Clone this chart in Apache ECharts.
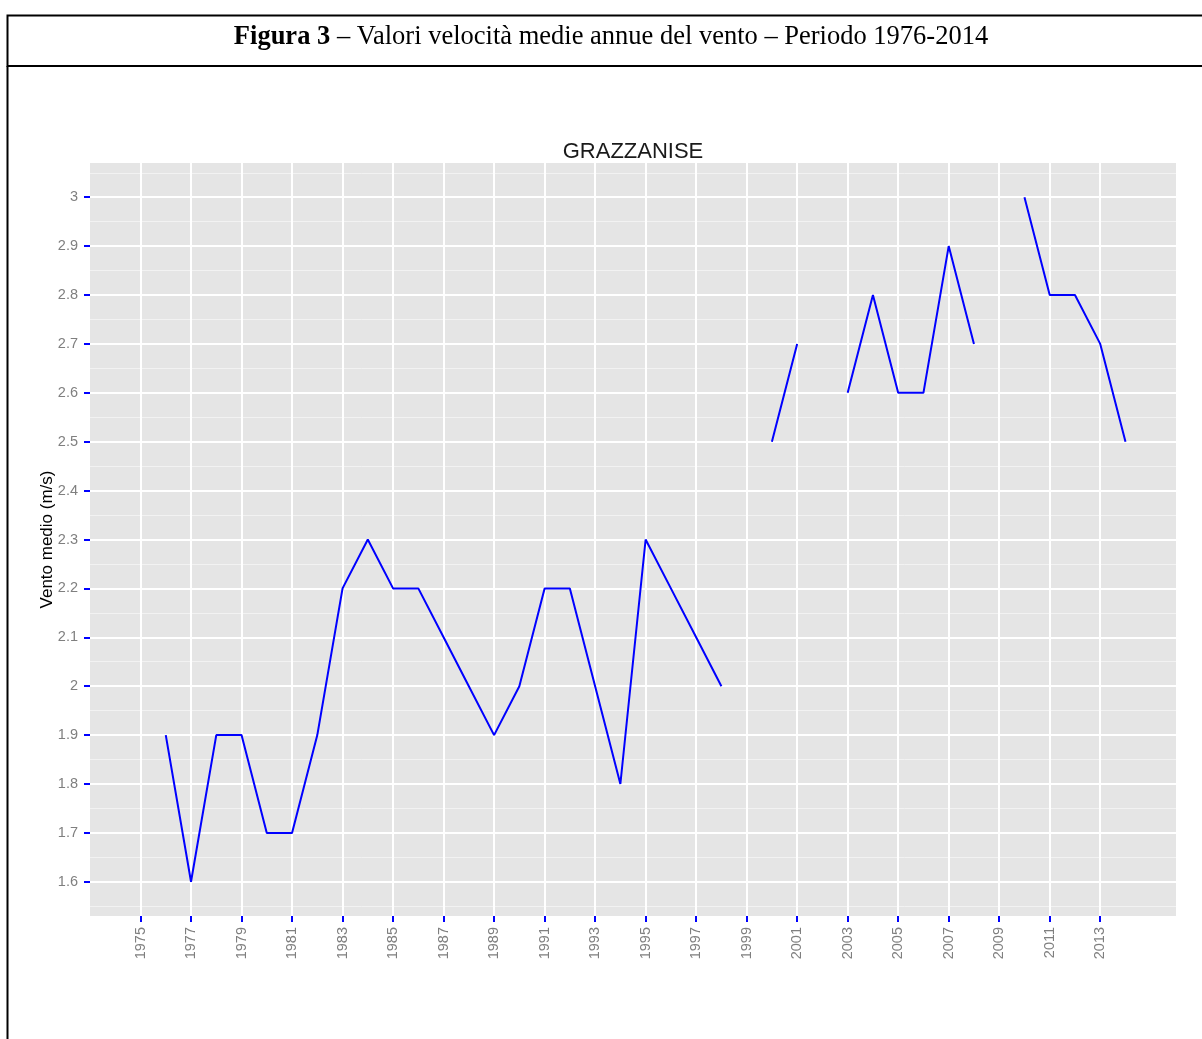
<!DOCTYPE html>
<html>
<head>
<meta charset="utf-8">
<script src="https://cdn.jsdelivr.net/npm/echarts@6/dist/echarts.min.js"></script>
<style>
html,body{margin:0;padding:0;background:#fff;}
#c{width:1202px;height:1039px;}
</style>
</head>
<body>
<div id="c"></div>
<script>
// ---- data ----
var years = [1976,1977,1978,1979,1980,1981,1982,1983,1984,1985,1986,1987,1988,1989,1990,1991,1992,1993,1994,1995,1996,1997,1998,1999,2000,2001,2002,2003,2004,2005,2006,2007,2008,2009,2010,2011,2012,2013,2014];
var windSpeed = [1.9,1.6,1.9,1.9,1.7,1.7,1.9,2.2,2.3,2.2,2.2,2.1,2.0,1.9,2.0,2.2,2.2,2.0,1.8,2.3,2.2,2.1,2.0,null,2.5,2.7,null,2.6,2.8,2.6,2.6,2.9,2.7,null,3.0,2.8,2.8,2.7,2.5];
var xBreaks = [1975,1977,1979,1981,1983,1985,1987,1989,1991,1993,1995,1997,1999,2001,2003,2005,2007,2009,2011,2013];
var yBreaks = [1.6,1.7,1.8,1.9,2.0,2.1,2.2,2.3,2.4,2.5,2.6,2.7,2.8,2.9,3.0];
var yMinorBreaks = [1.55,1.65,1.75,1.85,1.95,2.05,2.15,2.25,2.35,2.45,2.55,2.65,2.75,2.85,2.95,3.05];
var figTitle = 'Figura 3';
var figSubtitle = ' – Valori velocità medie annue del vento – Periodo 1976-2014';
var plotTitle = 'GRAZZANISE';
var yName = 'Vento medio (m/s)';

var pts = years.map(function(y,i){ return [y, windSpeed[i]]; });

var chart = echarts.init(document.getElementById('c'), null, {renderer:'canvas'});
var sans = 'Liberation Sans, Arial, sans-serif';
chart.setOption({
  animation: false,
  title: [{
    text: '{b|' + figTitle + '}{n|' + figSubtitle + '}',
    left: 606, top: 19, textAlign: 'center',
    textStyle: {
      fontWeight: 'normal', fontFamily: 'Liberation Serif', fontSize: 26.5, color: '#000',
      rich: {
        b: {fontFamily: 'Liberation Serif', fontWeight: 'bold', fontSize: 26.5, color: '#000'},
        n: {fontFamily: 'Liberation Serif', fontWeight: 'normal', fontSize: 26.5, color: '#000'}
      }
    }
  },{
    text: plotTitle,
    left: 628, top: 136, textAlign: 'center',
    textStyle: {fontFamily: sans, fontWeight: 'normal', fontSize: 22, color: '#1a1a1a'}
  }],
  graphic: [
    {type:'rect', shape:{x:7.5, y:15.5, width:1300, height:50.5}, style:{fill:'none', stroke:'#000', lineWidth:2}, silent:true},
    {type:'line', shape:{x1:7.5, y1:66, x2:7.5, y2:1100}, style:{stroke:'#000', lineWidth:2}, silent:true}
  ],
  grid: {left: 90, right: 26, top: 163, bottom: 123, show: true, backgroundColor: '#E5E5E5', borderWidth: 0, z: 0},
  xAxis: {
    type: 'value', min: 1973, max: 2016, z: 2,
    axisLine: {show: false},
    axisTick: {show: true, length: 6, customValues: xBreaks, lineStyle: {color: '#0000FF', width: 2}},
    axisLabel: {customValues: xBreaks, rotate: 90, margin: 11, color: '#7F7F7F', fontFamily: sans, fontSize: 14.5,
      formatter: function(v){ return String(v); }},
    splitLine: {show: true, lineStyle: {color: '#FFFFFF', width: 2}}
  },
  yAxis: [{
    type: 'value', min: 1.53, max: 3.07, z: 2,
    name: yName, nameLocation: 'middle', nameGap: 34, nameRotate: 90, nameMoveOverlap: false,
    nameTextStyle: {fontFamily: sans, fontSize: 17, color: '#000'},
    axisLine: {show: false},
    axisTick: {show: true, length: 6, customValues: yBreaks, lineStyle: {color: '#0000FF', width: 2}},
    axisLabel: {customValues: yBreaks, margin: 12, color: '#7F7F7F', fontFamily: sans, fontSize: 14.5,
      formatter: function(v){ return String(Math.round(v*10)/10); }},
    splitLine: {show: true, lineStyle: {color: '#FFFFFF', width: 2}}
  },{
    type: 'value', min: 1.53, max: 3.07, z: 1, position: 'left',
    axisLine: {show: false},
    axisTick: {show: false, customValues: yMinorBreaks},
    axisLabel: {show: false, customValues: yMinorBreaks},
    splitLine: {show: true, lineStyle: {color: '#F2F2F2', width: 1}}
  }],
  series: [{
    type: 'line', data: pts, yAxisIndex: 0, z: 5,
    showSymbol: false, connectNulls: false,
    lineStyle: {color: '#0000FF', width: 2}
  }]
});
</script>
</body>
</html>
